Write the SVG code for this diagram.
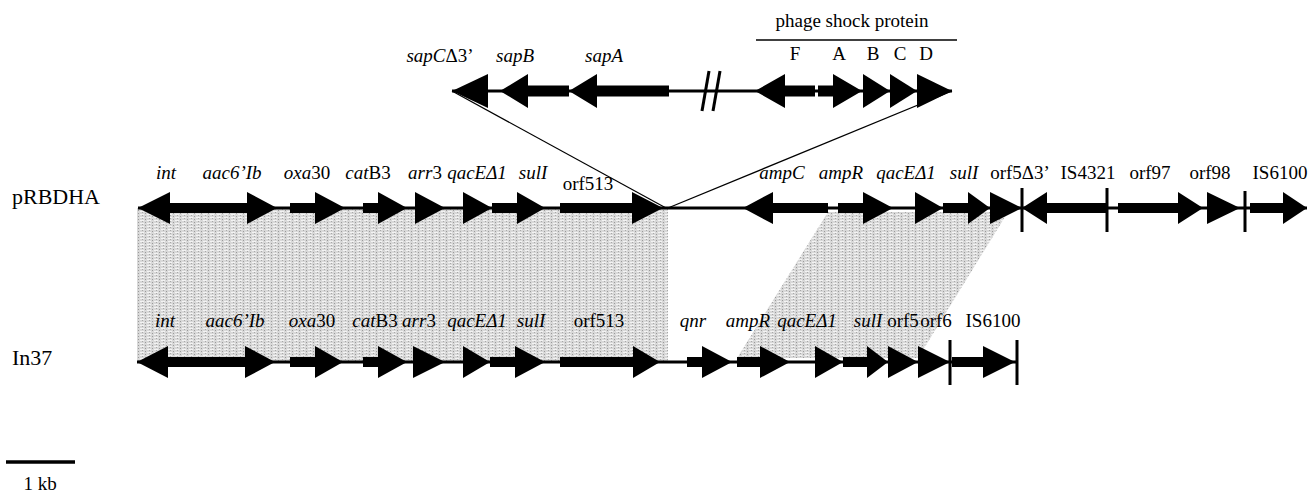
<svg xmlns="http://www.w3.org/2000/svg" width="1308" height="495" viewBox="0 0 1308 495">
  <defs>
    <!-- stippled grey used for the homology shading -->
    <pattern id="stipple" width="7" height="3" patternUnits="userSpaceOnUse">
      <rect width="7" height="3" fill="#d8d8d8"/>
      <rect x="0" y="1" width="4" height="1" fill="#f3f3f3"/>
      <rect x="5" y="0" width="1" height="1" fill="#9a9a9a"/>
      <rect x="2" y="2" width="1" height="1" fill="#a8a8a8"/>
    </pattern>
    <style>
      .gene { fill: #000; }
      .bb { stroke: #000; stroke-width: 3; fill: none; }
      .bar { stroke: #000; stroke-width: 3; }
      .thin { stroke: #000; stroke-width: 1.3; fill: none; }
      text { font-family: "Liberation Serif", "Times New Roman", serif; font-size: 19px; fill: #000; text-anchor: middle; }
      .it { font-style: italic; }
      .side { font-size: 22px; text-anchor: start; }
    </style>
  </defs>

  <!-- homology shading -->
  <g id="shading">
    <rect x="137" y="208" width="531" height="154" fill="url(#stipple)"/>
    <polygon points="828,212 1008,212 918,358 737,358" fill="url(#stipple)"/>
  </g>

  <!-- backbones, break marks and insertion lines -->
  <g id="connectors">
    <line class="bb" x1="452" y1="91" x2="952" y2="91"/>
    <line class="bb" x1="709" y1="71" x2="702" y2="111"/>
    <line class="bb" x1="720" y1="71" x2="713" y2="111"/>
    <line class="bb" x1="138" y1="208" x2="1307" y2="208"/>
    <line class="bb" x1="137" y1="362" x2="1017" y2="362"/>
    <line class="thin" x1="452" y1="91" x2="666" y2="208"/>
    <line class="thin" x1="952" y1="91" x2="668" y2="208"/>
    <line x1="756" y1="40" x2="957" y2="40" stroke="#000" stroke-width="1.5"/>
  </g>

  <!-- insert: sap operon and phage shock protein genes -->
  <g id="insert">
    <polygon class="gene" points="488,74 452,91 488,108"/>
    <polygon class="gene" points="569,85.5 528,85.5 528,74 500,91 528,108 528,96.5 569,96.5"/>
    <polygon class="gene" points="669,85.5 597,85.5 597,74 569,91 597,108 597,96.5 669,96.5"/>
    <polygon class="gene" points="815,85.5 785,85.5 785,74 755,91 785,108 785,96.5 815,96.5"/>
    <polygon class="gene" points="818,85.5 833,85.5 833,74 862,91 833,108 833,96.5 818,96.5"/>
    <polygon class="gene" points="863,74 890,91 863,108"/>
    <polygon class="gene" points="890,74 917,91 890,108"/>
    <polygon class="gene" points="917,74 952,91 917,108"/>
    <text x="440" y="62"><tspan class="it">sapC</tspan>Δ3’</text>
    <text class="it" x="515" y="62">sapB</text>
    <text class="it" x="604" y="62">sapA</text>
    <text x="852" y="27">phage shock protein</text>
    <text x="795" y="60">F</text>
    <text x="839" y="60">A</text>
    <text x="873" y="60">B</text>
    <text x="900" y="60">C</text>
    <text x="926" y="60">D</text>
  </g>

  <!-- pRBDHA -->
  <g id="pRBDHA">
    <text class="side" x="12" y="204">pRBDHA</text>
    <polygon class="gene" points="197,203 170,203 170,192 138,208 170,224 170,213 197,213"/>
    <polygon class="gene" points="197,203 247,203 247,192 277,208 247,224 247,213 197,213"/>
    <polygon class="gene" points="290,203 315,203 315,192 345,208 315,224 315,213 290,213"/>
    <polygon class="gene" points="363,203 378,203 378,192 407,208 378,224 378,213 363,213"/>
    <polygon class="gene" points="415,192 445,208 415,224"/>
    <polygon class="gene" points="463,192 492,208 463,224"/>
    <polygon class="gene" points="492,203 517,203 517,192 545,208 517,224 517,213 492,213"/>
    <polygon class="gene" points="560,203 632,203 632,192 663,208 632,224 632,213 560,213"/>
    <polygon class="gene" points="828,203 773,203 773,192 743,208 773,224 773,213 828,213"/>
    <polygon class="gene" points="838,203 863,203 863,192 893,208 863,224 863,213 838,213"/>
    <polygon class="gene" points="915,192 943,208 915,224"/>
    <polygon class="gene" points="943,203 968,203 968,192 990,208 968,224 968,213 943,213"/>
    <polygon class="gene" points="990,192 1022,208 990,224"/>
    <polygon class="gene" points="1107,203 1047,203 1047,192 1022,208 1047,224 1047,213 1107,213"/>
    <polygon class="gene" points="1118,203 1178,203 1178,192 1203,208 1178,224 1178,213 1118,213"/>
    <polygon class="gene" points="1207,192 1240,208 1207,224"/>
    <polygon class="gene" points="1250,203 1283,203 1283,192 1307,208 1283,224 1283,213 1250,213"/>
    <line class="bar" x1="1022" y1="188" x2="1022" y2="232"/>
    <line class="bar" x1="1107" y1="188" x2="1107" y2="232"/>
    <line class="bar" x1="1245" y1="191" x2="1245" y2="232"/>
    <text class="it" x="166" y="179">int</text>
    <text class="it" x="232" y="179">aac6’Ib</text>
    <text x="307" y="179"><tspan class="it">oxa</tspan>30</text>
    <text x="368" y="179"><tspan class="it">cat</tspan>B3</text>
    <text x="425" y="179"><tspan class="it">arr</tspan>3</text>
    <text class="it" x="477" y="179">qacEΔ1</text>
    <text class="it" x="533" y="179">sulI</text>
    <text x="588" y="190">orf513</text>
    <text class="it" x="782" y="179">ampC</text>
    <text class="it" x="841" y="179">ampR</text>
    <text class="it" x="906" y="179">qacEΔ1</text>
    <text class="it" x="964" y="179">sulI</text>
    <text x="1020" y="179">orf5Δ3’</text>
    <text x="1088" y="179">IS4321</text>
    <text x="1150" y="179">orf97</text>
    <text x="1210" y="179">orf98</text>
    <text x="1280" y="179">IS6100</text>
  </g>

  <!-- In37 -->
  <g id="In37">
    <text class="side" x="12" y="365">In37</text>
    <polygon class="gene" points="227,357 168,357 168,346 137,362 168,378 168,367 227,367"/>
    <polygon class="gene" points="227,357 245,357 245,346 275,362 245,378 245,367 227,367"/>
    <polygon class="gene" points="290,357 315,357 315,346 343,362 315,378 315,367 290,367"/>
    <polygon class="gene" points="363,357 378,357 378,346 407,362 378,378 378,367 363,367"/>
    <polygon class="gene" points="413,346 445,362 413,378"/>
    <polygon class="gene" points="463,346 490,362 463,378"/>
    <polygon class="gene" points="490,357 515,357 515,346 545,362 515,378 515,367 490,367"/>
    <polygon class="gene" points="560,357 633,357 633,346 660,362 633,378 633,367 560,367"/>
    <polygon class="gene" points="687,357 702,357 702,346 732,362 702,378 702,367 687,367"/>
    <polygon class="gene" points="737,357 760,357 760,346 790,362 760,378 760,367 737,367"/>
    <polygon class="gene" points="815,346 843,362 815,378"/>
    <polygon class="gene" points="843,357 867,357 867,346 888,362 867,378 867,367 843,367"/>
    <polygon class="gene" points="888,346 918,362 888,378"/>
    <polygon class="gene" points="918,346 950,362 918,378"/>
    <polygon class="gene" points="952,357 983,357 983,346 1015,362 983,378 983,367 952,367"/>
    <line class="bar" x1="950" y1="340" x2="950" y2="385"/>
    <line class="bar" x1="1017" y1="340" x2="1017" y2="385"/>
    <text class="it" x="165" y="327">int</text>
    <text class="it" x="235" y="327">aac6’Ib</text>
    <text x="312" y="327"><tspan class="it">oxa</tspan>30</text>
    <text x="375" y="327"><tspan class="it">cat</tspan>B3</text>
    <text x="419" y="327"><tspan class="it">arr</tspan>3</text>
    <text class="it" x="477" y="327">qacEΔ1</text>
    <text class="it" x="531" y="327">sulI</text>
    <text x="599" y="327">orf513</text>
    <text class="it" x="693" y="327">qnr</text>
    <text class="it" x="748" y="327">ampR</text>
    <text class="it" x="807" y="327">qacEΔ1</text>
    <text class="it" x="868" y="327">sulI</text>
    <text x="903" y="327">orf5</text>
    <text x="936" y="327">orf6</text>
    <text x="993" y="327">IS6100</text>
  </g>

  <!-- scale bar -->
  <g id="scale">
    <line x1="6" y1="462" x2="75" y2="462" stroke="#000" stroke-width="3.5"/>
    <text x="40" y="490">1 kb</text>
  </g>
</svg>
